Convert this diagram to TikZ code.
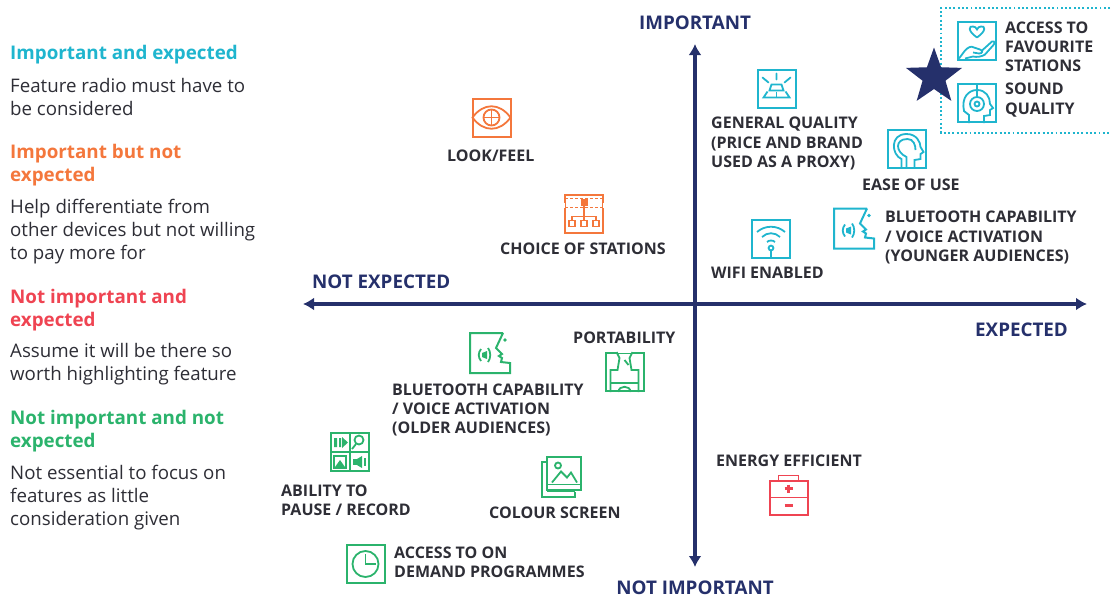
\documentclass[tikz,border=0pt]{standalone}
\usepackage{fontspec}
\setmainfont{Open Sans}
\usetikzlibrary{shapes.geometric,arrows.meta}
\definecolor{tealc}{HTML}{1FB5CE}
\definecolor{orangec}{HTML}{F4773C}
\definecolor{redc}{HTML}{EF4452}
\definecolor{greenc}{HTML}{2BB36C}
\definecolor{navyc}{HTML}{25306B}
\definecolor{inkc}{HTML}{2E2E36}
\tikzset{
  x=1pt,y=-1pt,
  iconbox/.style={draw,line width=2pt,minimum size=38pt,inner sep=0pt},
  iconfree/.style={minimum size=40pt,inner sep=0pt},
  lab/.style={font=\fontsize{16}{19.2}\selectfont\bfseries,text=inkc,anchor=west,align=left,inner sep=0pt},
  axlab/.style={font=\fontsize{18.8}{20}\selectfont\bfseries,text=navyc,inner sep=0pt},
  head/.style={font=\fontsize{18.8}{23}\selectfont\bfseries,anchor=west,align=left,inner sep=0pt},
  body/.style={font=\fontsize{18.7}{23}\selectfont,text=inkc,anchor=west,align=left,inner sep=0pt},
  axisline/.style={navyc,line width=3.4pt,{Latex[length=11pt,width=13pt]}-{Latex[length=11pt,width=13pt]}},
  ln/.style={line width=1.8pt,line join=miter},
  hand/.pic={
    \draw[ln] (0,-3) .. controls (-10,-10) and (-8,-15) .. (-4,-14) .. controls (-2,-14) and (-1,-13) .. (0,-11)
      .. controls (1,-13) and (2,-14) .. (4,-14) .. controls (8,-15) and (10,-10) .. (0,-3);
    \draw[ln] (-18,18) -- (-12,10) .. controls (-9,7) and (-6,5) .. (-3,7) -- (3,9) .. controls (6,10) and (6,13) .. (2,13) -- (-4,12);
    \draw[ln] (5,10) -- (15,1) .. controls (18,0) and (18,3) .. (16,5) -- (8,14) .. controls (5,16) and (0,17) .. (-4,16) -- (-12,18);
  },
  headset/.pic={
    \draw[ln] (-8,20) -- (-8,12) -- (-13,8) .. controls (-16,-6) and (-8,-13) .. (0,-13)
      .. controls (9,-13) and (13,-6) .. (13,1) -- (16,5) -- (13,7) -- (13,12) -- (7,13) -- (7,20);
    \draw[ln] (0,1) circle[radius=7];
    \draw[ln] (0,1) circle[radius=2.5];
    \draw[ln] (0,-18) -- (0,-6);
  },
  gold/.pic={
    \draw[ln,line cap=round] (0,-15) -- (0,-9) (-14,-11) -- (-8,-6) (14,-11) -- (8,-6);
    \draw[ln] (-5,-4) -- (5,-4) -- (7,2) -- (-7,2) -- cycle;
    \draw[ln] (-9,3) -- (-13,9) -- (13,9) -- (9,3);
    \draw[ln] (0,3) -- (0,9);
  },
  earhead/.pic={
    \draw[ln] (-5,19) -- (-5,10) .. controls (-15,6) and (-17,-15) .. (0,-15) .. controls (10,-15) and (14,-7) .. (14,-2)
      -- (17,3) -- (14,5) -- (14,10) -- (8,11) -- (8,19);
    \draw[ln] (0,19) -- (0,8) .. controls (-11,3) and (-12,-10) .. (1,-10) .. controls (7,-10) and (9,-4) .. (9,1);
  },
  speak/.pic={
    \draw[line width=2pt,line join=miter,fill=white] (13,-20) -- (-20,-20) -- (-20,20) -- (20,20) -- (20,10) -- (11,9)
      -- (12,5) -- (9,3) -- (12,1) -- (6,-5) -- (13,-20);
    \fill (15,-13) circle[radius=1.8];
    \draw[ln] (-2,-5) .. controls (1,-1) and (1,5) .. (-2,9);
    \draw[ln] (-9,-4) .. controls (-12,0) and (-12,4) .. (-9,8);
    \fill (-3,-2) -- (-8,0) -- (-8,4) -- (-3,6) -- cycle;
  },
  wifi/.pic={
    \draw[ln] (-14,-7) .. controls (-6,-14) and (6,-14) .. (14,-7);
    \draw[ln] (-9,-2) .. controls (-4,-7) and (4,-7) .. (9,-2);
    \draw[ln] (-4,3) .. controls (-2,1) and (2,1) .. (4,3);
    \draw[ln] (0,9) circle[radius=2.4];
    \draw[ln] (0,11.4) -- (0,20);
  },
  eye/.pic={
    \draw[ln] (-19,0) .. controls (-8,-15) and (8,-15) .. (19,0) .. controls (8,15) and (-8,15) .. (-19,0) -- cycle;
    \draw[ln] (0,0) circle[radius=8];
    \draw[ln] (-8,0) -- (8,0) (0,-8) -- (0,8);
  },
  tree/.pic={
    \draw[white,line width=2.6pt] (-20,-11) -- (-20,-6) (20,-11) -- (20,-6);
    \draw[ln,densely dashed] (-19,-15) -- (19,-15) (-19,-6) -- (19,-6);
    \fill (-3.5,-15) rectangle (3.5,-8);
    \draw[ln] (0,-8) -- (0,3) (-12,7) -- (-12,3) -- (12,3) -- (12,7) (0,3) -- (0,7);
    \draw[ln] (-15,7) rectangle (-9,13) (-3,7) rectangle (3,13) (9,7) rectangle (15,13);
  },
  porta/.pic={
    \draw[white,line width=2.8pt] (-7,-20) -- (7,-20);
    \draw[ln] (-8,-20) -- (-5,-14) -- (-7,-2) -- (-14,-2) -- (-14,20);
    \draw[ln] (8,-20) -- (5,-14) -- (7,-2) -- (14,-2) -- (14,20);
    \draw[ln] (-14,11) -- (14,11);
    \draw[ln] (0,-12) -- (4,-7);
    \draw[ln] (-6,20) .. controls (-6,13) and (6,13) .. (6,20);
  },
  grid/.pic={
    \draw[ln] (0,-20) -- (0,20) (-20,0) -- (20,0);
    \fill (-16,-14) rectangle (-13,-5) (-11,-14) rectangle (-9,-5);
    \fill (-8,-15) -- (-2,-9.5) -- (-8,-4) -- cycle;
    \draw[ln] (9,-12) circle[radius=4.5];
    \draw[ln] (6,-8) -- (2,-3);
    \draw[ln] (-16,4) rectangle (-4,16);
    \fill (-15,15) -- (-10,8) -- (-5,15) -- cycle;
    \fill (3,7) rectangle (7,13);
    \fill (7,7) -- (12,4) -- (12,16) -- (7,13) -- cycle;
    \draw[ln] (15,6) -- (15,14);
  },
  images/.pic={
    \draw[line width=2pt] (-15,-15) -- (-20,-15) -- (-20,20) -- (13,20) -- (13,15);
    \draw[line width=2pt] (-15,-20) rectangle (19,13);
    \draw[ln] (-15,8) -- (19,8);
    \draw[ln] (-15,15) -- (13,15);
    \draw[ln] (-4,-11) circle[radius=3];
    \draw[ln] (-10,6) -- (-1,-5) -- (5,1) -- (9,-4) -- (15,6);
  },
  clock/.pic={
    \draw[ln] (0,0) circle[radius=13];
    \draw[ln] (0,-10) -- (0,0) -- (10,0);
  },
  firstaid/.pic={
    \draw[line width=2pt] (-19,-15) rectangle (19,19);
    \draw[ln] (-10,-15) -- (-10,-20) -- (10,-20) -- (10,-15);
    \draw[ln] (-19,2) -- (19,2);
    \draw[line width=2.4pt] (-4,-7) -- (4,-7) (0,-11) -- (0,-3);
    \draw[line width=2.4pt] (-4,10) -- (4,10);
  }
}
\begin{document}
\begin{tikzpicture}
\useasboundingbox (0,0) rectangle (1112,598);

% legend
\node[head,text=tealc] (h1) at (10,54.5) {Important and expected};
\node[body] (b1) at (10,97) {Feature radio must have to\\be considered};
\node[head,text=orangec] (h2) at (10,165) {Important but not\\expected};
\node[body] (b2) at (10,232) {Help differentiate from\\other devices but not willing\\to pay more for};
\node[head,text=redc] (h3) at (10,310) {Not important and\\expected};
\node[body] (b3) at (10,364) {Assume it will be there so\\worth highlighting feature};
\node[head,text=greenc] (h4) at (10,431) {Not important and not\\expected};
\node[body] (b4) at (10,498) {Not essential to focus on\\features as little\\consideration given};

% axes
\coordinate (xl) at (303,304);
\coordinate (xr) at (1087,304);
\coordinate (yt) at (695,44);
\coordinate (yb) at (695,567);
\draw[axisline] (xl) -- (xr);
\draw[axisline] (yb) -- (yt);
\node[axlab] (important) at (695,23) {IMPORTANT};
\node[axlab] (notimportant) at (695,588) {NOT IMPORTANT};
\node[axlab,anchor=west] (notexpected) at (312,282) {NOT EXPECTED};
\node[axlab,anchor=west] (expected) at (975,330) {EXPECTED};

% dotted frame
\coordinate (fa) at (1110,8);
\coordinate (fb) at (941,8);
\coordinate (fc) at (941,133);
\coordinate (fd) at (1110,133);
\draw[tealc,line width=1.9pt,dash pattern=on 1.9pt off 2.4pt] (fa) -- (fb) -- (fc) -- (fd);

% teal icons
\begin{scope}[tealc]
\node[iconbox,draw=tealc] (fav) at (977,40.5) {};
\pic at (fav) {hand};
\node[iconbox,draw=tealc] (sound) at (977,103) {};
\pic at (sound) {headset};
\node[iconbox,draw=tealc] (general) at (776.5,88.5) {};
\pic at (general) {gold};
\node[iconbox,draw=tealc] (ease) at (906.5,149) {};
\pic at (ease) {earhead};
\node[iconfree] (btyoung) at (854,228.5) {};
\pic at (btyoung) {speak};
\node[iconbox,draw=tealc] (wifibox) at (771,239) {};
\pic at (wifibox) {wifi};
\end{scope}

\node[star,star points=5,star point ratio=2.45,fill=navyc,minimum size=59pt,inner sep=0pt] (star) at (934,77) {};

% orange icons
\begin{scope}[orangec]
\node[iconbox,draw=orangec] (look) at (491.5,117.5) {};
\pic at (look) {eye};
\node[iconbox,draw=orangec] (choice) at (584,213.5) {};
\pic at (choice) {tree};
\end{scope}

% green icons
\begin{scope}[greenc]
\node[iconfree] (btold) at (490,353) {};
\pic at (btold) {speak};
\node[iconbox,draw=greenc] (portable) at (624.5,372) {};
\pic at (portable) {porta};
\node[iconbox,draw=greenc] (ability) at (350,452) {};
\pic at (ability) {grid};
\node[iconfree] (colour) at (562,476.5) {};
\pic at (colour) {images};
\node[iconbox,draw=greenc] (demand) at (365.5,564) {};
\pic at (demand) {clock};
\end{scope}

% red icon
\begin{scope}[redc]
\node[iconfree] (energy) at (788.5,495.5) {};
\pic at (energy) {firstaid};
\end{scope}

% labels
\node[lab] (l1) at (1005,46.5) {ACCESS TO\\FAVOURITE\\STATIONS};
\node[lab] (l2) at (1005,100) {SOUND\\QUALITY};
\node[lab] (l3) at (711,143.5) {GENERAL QUALITY\\(PRICE AND BRAND\\USED AS A PROXY)};
\node[lab] (l4) at (862,184.5) {EASE OF USE};
\node[lab] (l5) at (885,237.5) {BLUETOOTH CAPABILITY\\/ VOICE ACTIVATION\\(YOUNGER AUDIENCES)};
\node[lab] (l6) at (711,272.5) {WIFI ENABLED};
\node[lab] (l7) at (447,155.5) {LOOK/FEEL};
\node[lab] (l8) at (500,248.5) {CHOICE OF STATIONS};
\node[lab] (l9) at (573,337.5) {PORTABILITY};
\node[lab] (l10) at (392,410) {BLUETOOTH CAPABILITY\\/ VOICE ACTIVATION\\(OLDER AUDIENCES)};
\node[lab] (l11) at (716,460.5) {ENERGY EFFICIENT};
\node[lab] (l12) at (281,500) {ABILITY TO\\PAUSE / RECORD};
\node[lab] (l13) at (489,512.5) {COLOUR SCREEN};
\node[lab] (l14) at (394,562) {ACCESS TO ON\\DEMAND PROGRAMMES};
\end{tikzpicture}
\end{document}
